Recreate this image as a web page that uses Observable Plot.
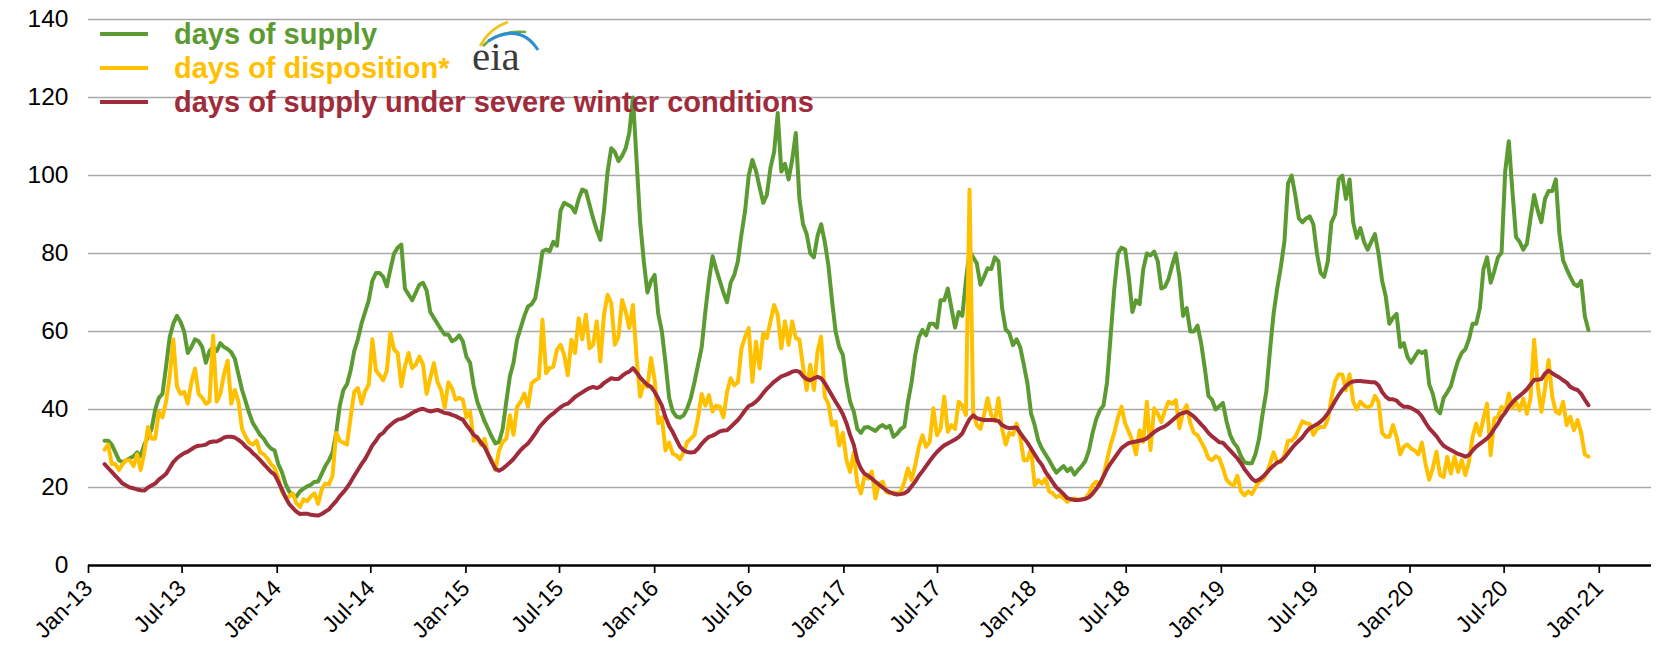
<!DOCTYPE html>
<html><head><meta charset="utf-8">
<script src="https://cdn.jsdelivr.net/npm/d3@7"></script>
<script src="https://cdn.jsdelivr.net/npm/@observablehq/plot@0.6"></script>
<style>
html,body{margin:0;padding:0;background:#fff;}
#wrap{position:relative;width:1657px;height:655px;font-family:"Liberation Sans",Arial,sans-serif;}
#legend{position:absolute;left:100px;top:17px;}
.row{display:flex;align-items:center;height:34px;font-weight:bold;font-size:29px;white-space:nowrap;line-height:34px;}
.sw{width:48px;height:4.5px;margin-right:26px;}
#logo{position:absolute;left:462px;top:12px;}
#logo svg{overflow:visible;}
</style></head><body><div id="wrap"></div>
<script>
// Weekly observations starting 1 Feb 2013
const startDate = "2013-02-01";
const seriesNames = ["days of supply", "days of disposition*", "days of supply under severe winter conditions"];
const seriesColors = ["#5b9b31", "#ffc000", "#a02b3b"];
const yTicks = [0, 20, 40, 60, 80, 100, 120, 140];
const xTickDates = ["2013-01-01","2013-07-01","2014-01-01","2014-07-01","2015-01-01","2015-07-01","2016-01-01","2016-07-01","2017-01-01","2017-07-01","2018-01-01","2018-07-01","2019-01-01","2019-07-01","2020-01-01","2020-07-01","2021-01-01"];

const supply = [
32,32,31,29,27,26.5,27,27.5,28,29,
28,31,33,35,40,43,44,51,58.5,62,
64,62.5,60,54.5,56,58,57.5,56,52,55,
56,55,57,56,55.5,54.7,53,49,45,42,
39,36.5,35,33.5,32.5,31,30,29.5,26,24,
21,19,
18,17.7,19,19.7,20.3,20.7,21.5,21.5,23.5,25.5,
27,29,34,41,45,46.5,50,55,58,62,
65,68,73,75,75,74,71.6,76,80,81.5,
82.3,71,69.5,68,70,72,72.5,70.5,65,63.5,
62,60.5,59.2,59.2,57.5,58,59,57.5,53.5,52,
46,42,
39.5,37,35,33,31.3,31.7,35,42,48.5,52,
58,61,64,66.4,67,68.5,74,80.5,81,80.6,
83,82,91,93,92.5,92,90.5,94,96.4,96,
92.5,89,86,83.5,91,101,107,106,103.7,105,
107,111,120,104,88,78,70,73,74.5,64.5,
60,52,
43,39.5,38.2,37.9,38.5,40.3,43,47,51.5,56,
65,73,79.3,76,73,70,67.5,72.5,74.5,78,
85,91,100,104,101.2,97,93,95,102,106,
116,101,103,99,104,110.9,94,87.5,85,80,
79,84.5,87.5,83,77,68,60,56,54,47,
42,39.5,35,
34,35.4,35.5,35,34.5,35.5,36,35.3,35.8,33,
33.8,35,35.6,42,47,54,58.5,60.4,59,62,
62,61,68,68,71,66,61,65,64,73,
80.5,79,77.5,72,74,76.2,76,79,78,66,
60.5,59.6,56.5,58,56,51.5,46.7,39,36,32,
30,28.5,27,
25.3,23.8,24.7,25.5,24.2,25,23.3,24.5,25.5,26.8,
29.5,34,37.5,39.8,41,47,59,71,80,81.5,
81,74,65,68,67,76,80,79.5,80.5,78,
71,71.5,73.5,77,80,74,64,66,60,60,
61.5,57,50.6,43.5,42.5,40,40.8,41.7,37,33.5,
31.5,30.3,
28,26.4,26.2,26.2,28.5,32.5,39,44.5,55,64.5,
71,76.5,83,98,100,95,89,88,89,89.5,
87.5,80,75,74,78,88,90,99,100,94,
99,88,84,86.5,83,81,83,85,80,73,
69,62,63.5,64.5,56,57,53.5,52,53.5,55,
54.5,55,46.5,
44,40,39,43,44.4,46,49.5,52.5,54.5,55.5,
58,62,62,66,76,79,72.5,75.5,79,80.2,
101,108.8,96,84.2,83,81,82.5,89,95,91,
88,94,96,96,99,85,78.3,76,74,72.2,
71.6,73,64,60.4
];

const disposition = [
29.7,31,26,26,24.5,26,27,27,25.5,28.5,
24.5,29,35.5,32.5,32.5,39.5,38,42,48.5,58,
46,44,44.5,41.5,47,50.5,44,43,41.5,42,
59,42,44,49,52.5,41.5,45,42,35,33,
31.5,31,32,29,28.5,27.5,26,25,22.5,19,
17.5,17.7,
18.5,16,15,17,16.5,17.7,18.5,15.8,19.4,21,
20.8,23,34,32,31.5,31,38,44.5,45.5,41.5,
44.7,46.4,58,50,48.8,47.5,50,59.6,55.4,54.5,
46,51,54.5,50.6,51.5,53.6,51.5,44,48,51.9,
47,45,40.5,47,45.5,42.5,43,42.5,38,39.5,
32,33,
31,32.5,28.5,27,24.5,29.5,31.7,32.5,38.5,33.5,
40.7,42,44.1,40.7,46.7,47.5,48,63,49.3,50.6,
51,55.3,56.6,54,48.8,57.9,54.5,63.4,58,64.3,
55.7,56.6,62.6,52.3,64.3,69.4,67.3,56.6,58.7,68.1,
65.1,60.9,66.8,53.2,43.3,46.7,45.8,53.2,47.5,36.5,
38,29.5,
31.5,28.7,28.2,27.3,29,31.7,32.5,33.5,38,44,
41,43.7,39.5,41,40.7,38,44.5,48,46.2,47,
55.7,58.7,60.9,47.1,57.4,50.5,59.6,58.3,62.6,66.8,
64.3,55.7,62.6,56.6,62.6,58.3,57.9,51,45,51.5,
45,54.9,58.7,43.3,41.5,36,36.9,30.8,34,27,
24,29,21,
18.5,23,22.3,24.1,17.2,21,21.5,18.9,18.5,18.7,
18.5,18.9,21.5,24.9,21.9,25.7,30.4,33.4,30.4,31.7,
40.3,33.4,35.1,43.3,34.3,36,35,42,41,38.6,
96.4,39.4,36,35,38.6,42.9,38.6,37,42.9,35,
31,34,33.5,36.4,33,27,27,30,20.5,21.9,
21,22.3,19,
18.5,17.5,18,17.2,16.3,17,17.2,16.8,17,17.2,
18.5,20.6,21.5,20.6,23,27,31,34,38,40.7,
36.4,34.3,32,28.5,34.7,31.7,42,29.6,40.3,39,
36.8,39.8,42,41.5,42.4,35.2,39.4,41.1,36.5,34,
33.4,31.7,30,27.5,27,28,27.5,25,22,21,
20.5,23,
19,18,19,18.3,20,21.5,22,23.5,26,29,
26.5,26.5,28.3,32,32,33,35,37,36.5,36.3,
33.5,35,35.5,35.5,37.5,43,47.2,49,49,45,
49,42,40,42,41,40.5,41,43.5,42,34,
33,33,36,33,28.5,30.5,31,30,29.5,28.5,
31.5,26,22,
24.9,29.2,23.2,22.7,27.9,23.6,27.9,24,27,23.2,
26.6,33,36.4,33.4,37.7,41.5,28.3,37.7,38.1,40.7,
39.4,44.1,40.3,42,39.8,42.8,38.9,42.8,57.9,46,
39.4,45.4,52.7,43.3,39.4,38.9,42,36,38.1,34.7,
37.3,34,28.5,27.9
];

const severeWinter = [
26,25,24,23,22,21,20.5,20,19.8,19.5,
19.3,19.2,20,20.5,21,22,22.7,23.5,25,26.5,
27.5,28.2,28.8,29.2,29.8,30.4,30.7,30.8,31,31.6,
31.8,31.8,32.2,32.8,33,33,32.8,32.2,31.5,30.5,
29.8,28.8,28,27,26,25,24,23.3,21.5,19.5,
17.5,15.8,
14.8,13.8,13.2,13.3,13.3,13,12.9,12.8,13.2,13.8,
14.4,15.5,16.5,17.8,18.8,20,21.4,23,24.5,26,
27.3,29,30.8,32,33.4,34,35.2,36,36.8,37.4,
37.6,38,38.5,39.1,39.6,40,40.2,39.8,39.5,39.7,
39.9,39.5,39.1,39,38.6,38.3,37.8,37.4,36,34.8,
33.5,32.8,
31.5,30.4,28.5,26.5,24.8,24.3,24.8,25.6,26.4,27.3,
28.5,29.6,30.5,31.3,32.5,33.8,35.3,36.4,37.4,38.3,
39,39.8,40.6,41.2,41.5,42.3,43.2,43.8,44.4,45,
45.5,45.8,45.5,45.9,46.8,47.4,48,47.8,47.8,48.6,
49.3,49.7,50.6,49.5,48.2,47.2,46.3,45.8,44.5,42.8,
41,38,
35.8,34.2,32.3,30.5,29.5,29.1,29,29.1,30,31.2,
32.2,33,33.3,33.8,34.4,34.6,34.7,35.5,36.4,37.3,
38.5,39.8,40.9,41.3,42,43,44.2,45.3,46.2,47.1,
47.8,48.5,48.8,49.2,49.7,49.9,49.7,48.5,47.8,47.5,
48,48.4,48,46.8,45.2,43.6,42,40.5,38.8,36.5,
33.5,31,27,
24.8,23.5,23,22.3,21.5,20.7,20,19.3,18.8,18.4,
18.2,18.3,18.5,19.1,20.3,21.5,23,24.2,25.5,26.8,
28,29.1,30,30.8,31.3,31.8,32.3,32.9,33.9,35.8,
37.5,38.5,37.8,37.5,37.3,37.3,37.3,37.3,37,36,
35.5,35.2,35.3,35.4,34,32.7,31.5,30,28.5,27,
25.8,24,22.7,
21.3,20,19.2,18.3,17.3,17,16.8,16.8,16.9,17.1,
17.5,18.4,19.6,21,22.8,24.7,26.2,27.5,28.8,30.1,
30.8,31.4,31.6,31.8,32,32.2,32.6,33.4,34.2,34.8,
35.3,35.7,36.4,37.2,38,38.8,39.1,39.4,38.9,38.2,
37.2,36.2,35.2,34,33.1,32.4,31.6,31.5,30.5,29.5,
28.5,27.5,
26.2,24.7,23.5,22.3,21.6,22,22.7,23.7,24.7,25.6,
26.4,26.8,27.6,28.8,30,31.1,32,32.9,34.2,35.2,
35.7,36.2,36.9,37.8,39,40.5,42.2,43.7,45,46,
46.8,47.2,47.3,47.3,47.2,47.1,47,47,46.2,44.5,
43.3,42.6,42.6,42.3,41.3,40.7,40.7,40.4,39.9,39.3,
38.2,36.6,35.2,
34.2,33.2,31.8,30.7,30.1,29.6,29.1,28.6,28.3,27.9,
28.3,29.5,30.5,31.2,31.9,32.6,33.6,35.1,36.4,38,
39.2,40.7,41.8,42.8,43.5,44.3,45.2,46.4,47.6,47.6,
47.8,49.2,50,49.3,48.7,48.2,47.5,46.9,45.8,45.3,
45,44,42.5,41.1
];

const start = new Date(startDate + "T00:00:00Z");
const dateAt = i => d3.utcDay.offset(start, 7 * i);
const allSeries = [supply, disposition, severeWinter];
const rows = [];
allSeries.forEach((arr, s) => arr.forEach((v, i) => rows.push({date: dateAt(i), value: v, series: seriesNames[s]})));

const fmt = d3.utcFormat("%b-%y");
const ticksX = xTickDates.map(s => new Date(s + "T00:00:00Z"));

const chart = Plot.plot({
  width: 1657,
  height: 655,
  marginLeft: 88,
  marginRight: 6,
  marginTop: 19,
  marginBottom: 90,
  style: {fontFamily: "Liberation Sans, Arial, sans-serif", fontSize: "22px", color: "#000", background: "#fff"},
  x: {type: "utc", domain: [new Date("2013-01-01T00:00:00Z"), new Date("2021-04-12T00:00:00Z")]},
  y: {domain: [0, 140]},
  marks: [
    Plot.ruleY(yTicks.filter(d => d > 0), {stroke: "#a9a9a9", strokeWidth: 1.7}),
    Plot.axisY({ticks: yTicks, tickSize: 0, tickPadding: 20, fontSize: 24.5, label: null}),
    Plot.axisX({ticks: ticksX, tickFormat: fmt, tickRotate: -45, tickSize: 8, tickPadding: 11, fontSize: 23, label: null, strokeWidth: 1.7}),
    Plot.ruleY([0], {stroke: "#000", strokeWidth: 2.6}),
    ...seriesNames.map((name, s) => Plot.line(rows.filter(r => r.series === name), {x: "date", y: "value", stroke: seriesColors[s], strokeWidth: 4}))
  ]
});

const wrap = document.getElementById("wrap");
wrap.appendChild(chart);

const legend = document.createElement("div");
legend.id = "legend";
seriesNames.forEach((name, s) => {
  const row = document.createElement("div");
  row.className = "row";
  row.style.color = seriesColors[s];
  const sw = document.createElement("span");
  sw.className = "sw";
  sw.style.background = seriesColors[s];
  const t = document.createElement("span");
  t.textContent = name;
  row.appendChild(sw); row.appendChild(t);
  legend.appendChild(row);
});
wrap.appendChild(legend);

const logo = document.createElement("div");
logo.id = "logo";
logo.innerHTML = `<svg width="100" height="75" viewBox="0 0 100 75">
<path d="M18 34 Q28 16 46 10" fill="none" stroke="#f2c318" stroke-width="2.6"/>
<path d="M21 34 Q36 18 64 20" fill="none" stroke="#6aaa3a" stroke-width="2.6"/>
<path d="M26 29 Q58 10 76 38" fill="none" stroke="#2e8fd0" stroke-width="3"/>
<text x="10" y="58" font-family="Liberation Serif, DejaVu Serif, serif" font-size="41" fill="#3b3b3b">eia</text>
</svg>`;
wrap.appendChild(logo);
</script>
</body></html>
